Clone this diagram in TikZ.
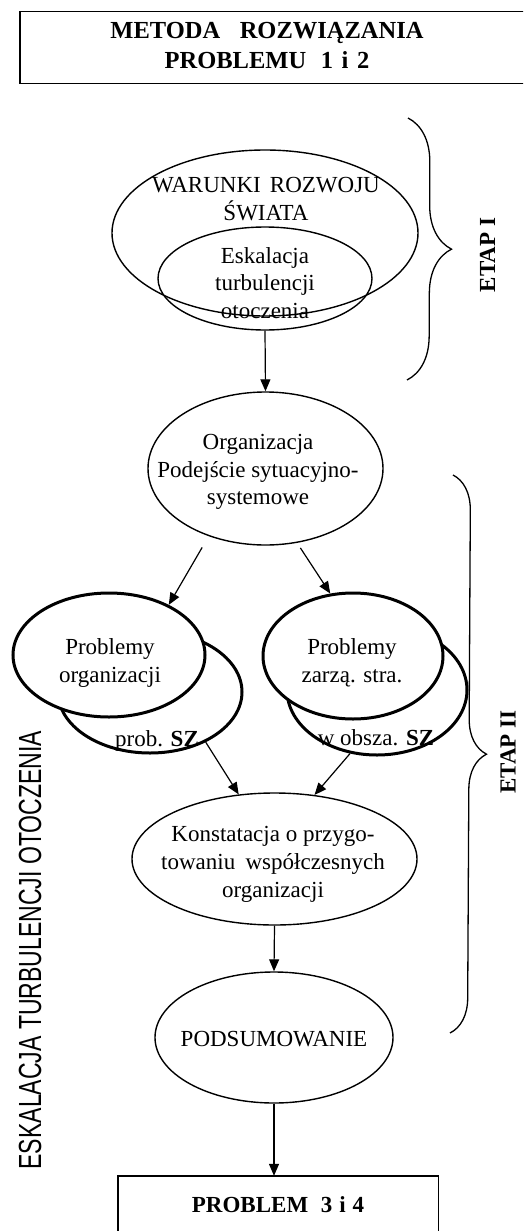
\documentclass[tikz,border=0pt]{standalone}
\usepackage{fontspec}
\setmainfont{Liberation Serif}
\newfontfamily\sidefont{Liberation Sans}
\usetikzlibrary{arrows.meta,decorations.pathreplacing,shapes.geometric}

\begin{document}
\begin{tikzpicture}[x=1pt,y=-1pt,
  txt/.style={font=\fontsize{23}{27.5}\selectfont, align=center, inner sep=0},
  boldtxt/.style={font=\fontsize{23}{30}\selectfont\bfseries, align=center, inner sep=0},
  oval/.style={draw, ellipse, inner sep=0, line width=1.4pt},
  heavyoval/.style={draw, ellipse, inner sep=0, line width=3pt},
  boxline/.style={line width=1.4pt},
  arr/.style={-{Triangle[length=12pt,width=10pt]}, line width=1.2pt},
  stagebrace/.style={decorate, decoration={brace, amplitude=#1}, line width=1.3pt},
]
\useasboundingbox (0,0) rectangle (523,1231);
\clip (0,0) rectangle (523,1231);

% heading box: it runs on past the right margin, so only three sides show
\node[inner sep=0, minimum width=530pt, minimum height=71pt] (topbox) at (285,47.5) {};
\draw[boxline] (topbox.north east) -- (topbox.north west) -- (topbox.south west) -- (topbox.south east);
\node[boldtxt, font=\fontsize{24.5}{30}\selectfont\bfseries] (title) at (267,45.5)
  {METODA\hspace{0.8em}ROZWIĄZANIA\\PROBLEMU\hspace{0.6em}1\hspace{0.35em}i\hspace{0.35em}2};

% stage I
\node[oval, minimum width=306pt, minimum height=166pt] (warunki) at (265,233) {};
\node[oval, minimum width=214pt, minimum height=103pt] (eskal) at (265,278.5) {};
\node[txt] (warunkitxt) at (266,199) {WARUNKI\hspace{0.4em}ROZWOJU\\ŚWIATA};
\node[txt] (eskaltxt) at (265,283) {Eskalacja\\turbulencji\\otoczenia};

% organisation
\node[oval, minimum width=235pt, minimum height=153pt] (org) at (265.5,468.5) {};
\node[txt] (orgtxt) at (258,472) {Organizacja\\Podejście sytuacyjno-\\systemowe};

% problem pairs (back ellipse first, front one filled over it)
\node[heavyoval, minimum width=184pt, minimum height=122pt] (probLb) at (150,692) {};
\node[heavyoval, fill=white, minimum width=192pt, minimum height=124pt] (probL) at (109,655) {};
\node[heavyoval, minimum width=180pt, minimum height=130pt] (probRb) at (377,690) {};
\node[heavyoval, fill=white, minimum width=180pt, minimum height=126pt] (probR) at (353,656) {};
\node[txt] (probLtxt) at (110,663) {Problemy\\organizacji};
\node[txt] (probRtxt) at (352,663) {Problemy\\zarzą. stra.};
\node[txt] (probLbtxt) at (157,741) {prob. \textbf{SZ}};
\node[txt] (probRbtxt) at (376,738) {w obsza. \textbf{SZ}};

% conclusion and summary
\node[oval, minimum width=285pt, minimum height=132pt] (konst) at (274.5,859) {};
\node[txt, font=\fontsize{23}{28}\selectfont] (konsttxt) at (273,864)
  {Konstatacja o przygo-\\towaniu\hspace{0.45em}współczesnych\\organizacji};
\node[oval, minimum width=238pt, minimum height=131pt] (pods) at (274,1037.5) {};
\node[txt] (podstxt) at (274,1039) {PODSUMOWANIE};

% result box: its lower edge lies below the margin
\node[inner sep=0, minimum width=320pt, minimum height=74pt] (endbox) at (278,1213) {};
\draw[boxline] (endbox.south west) -- (endbox.north west) -- (endbox.north east) -- (endbox.south east);
\node[boldtxt] (endtxt) at (278,1205) {PROBLEM\hspace{0.55em}3\hspace{0.3em}i\hspace{0.3em}4};

% connectors
\draw[arr] (eskal.south) -- (org.north);
\draw[arr, shorten <=13pt] (org.230) -- (probL.40);
\draw[arr, shorten <=6pt] (org.293) -- (probR.110);
\draw[arr] (probLb.318) -- (konst.119);
\draw[arr] (probRb.247) -- (konst.58);
\draw[arr] (konst.south) -- (pods.north);
\draw[arr] (pods.south) -- (pods.south |- endbox.north);

% stage braces
\coordinate (b1top) at (408,118);
\coordinate (b1bot) at (407,380);
\draw[stagebrace=44pt] (b1top) -- (b1bot);
\coordinate (b2top) at (453,475);
\coordinate (b2bot) at (450,1033);
\draw[stagebrace=35pt] (b2top) -- (b2bot);
\node[boldtxt, rotate=90] (etap1) at (487.5,255) {ETAP I};
\node[boldtxt, rotate=90] (etap2) at (508,752) {ETAP II};

% side caption
\node[inner sep=0, rotate=90, font=\sidefont\fontsize{32}{32}\selectfont] (side) at (30,950)
  {\scalebox{0.72}[1]{ESKALACJA TURBULENCJI OTOCZENIA}};
\end{tikzpicture}
\end{document}
